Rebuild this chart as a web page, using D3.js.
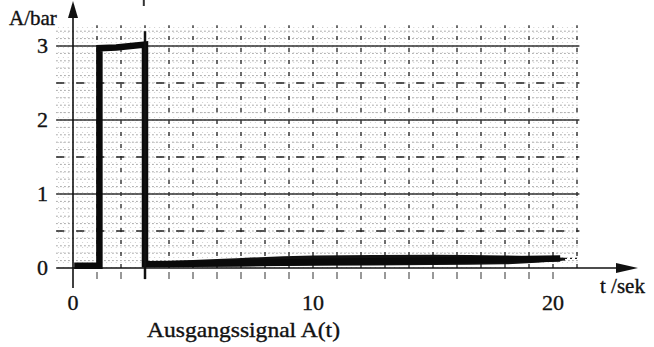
<!DOCTYPE html>
<html><head><meta charset="utf-8">
<script src="https://cdn.jsdelivr.net/npm/d3@7"></script>
<style>body{margin:0;background:#fff}svg{display:block}</style>
</head><body><svg id="c" width="654" height="347"></svg>
<script>
// ---- data ----
const xTicks = [0, 10, 20];
const yTicks = [0, 1, 2, 3];
const yHalf = [0.5, 1.5, 2.5];
const signalT = [0.05, 1.1, 1.1, 1.8, 3.0, 3.0, 6, 10, 15, 20.3];
const signalA = [0.03, 0.03, 2.97, 2.98, 3.02, 0.05, 0.06, 0.08, 0.1, 0.13];
const tailT = [3.0, 6, 10, 15, 18, 20.5];
const tailUpper = [0.08, 0.12, 0.17, 0.18, 0.17, 0.14];
const tailLower = [0.02, 0.02, 0.03, 0.04, 0.05, 0.1];
const xLabel = "t /sek";
const yLabel = "A/bar";
const caption = "Ausgangssignal A(t)";

const FONT = "'Liberation Serif', 'Times New Roman', Times, 'DejaVu Serif', serif";
const svg = d3.select("#c");
const x = d3.scaleLinear().domain([0, 20]).range([73, 553]);
const y = d3.scaleLinear().domain([0, 3]).range([268, 46]);

const gx0 = -0.7, gx1 = 21.1, gy1 = 3.28;
const grid = svg.append("g");
d3.range(1, 33).map(i => i / 10).forEach(v => {
  grid.append("line").attr("x1", x(gx0)).attr("x2", x(gx1)).attr("y1", y(v)).attr("y2", y(v))
    .attr("stroke", "#8a8a8a").attr("stroke-width", 0.9).attr("stroke-dasharray", "1.5,2.5");
});
d3.range(-3, 106).map(i => i / 5).forEach(v => {
  grid.append("line").attr("x1", x(v)).attr("x2", x(v)).attr("y1", y(0)).attr("y2", y(gy1))
    .attr("stroke", "#bbb").attr("stroke-width", 0.7).attr("stroke-dasharray", "1,4");
});
d3.range(1, 22).forEach(v => {
  grid.append("line").attr("x1", x(v)).attr("x2", x(v)).attr("y1", y(0)).attr("y2", y(gy1))
    .attr("stroke", "#333").attr("stroke-width", 1.4).attr("stroke-dasharray", "4,8");
});
yHalf.forEach(v => {
  grid.append("line").attr("x1", x(gx0)).attr("x2", x(gx1)).attr("y1", y(v)).attr("y2", y(v))
    .attr("stroke", "#222").attr("stroke-width", 1.5).attr("stroke-dasharray", "8,12");
});
yTicks.filter(v => v > 0).forEach(v => {
  grid.append("line").attr("x1", x(gx0)).attr("x2", x(gx1)).attr("y1", y(v)).attr("y2", y(v))
    .attr("stroke", "#333").attr("stroke-width", 1.3);
});

d3.range(1, 21).forEach(v => {
  svg.append("line").attr("x1", x(v)).attr("x2", x(v)).attr("y1", y(0) + 4).attr("y2", y(0) + 11)
    .attr("stroke", "#555").attr("stroke-width", 1.2);
});

svg.append("line").attr("x1", x(gx0)).attr("x2", 622).attr("y1", y(0)).attr("y2", y(0))
  .attr("stroke", "#111").attr("stroke-width", 1.6);
svg.append("path").attr("d", `M638,${y(0)} L616,${y(0)-5} L616,${y(0)+5} Z`).attr("fill", "#111");
svg.append("line").attr("x1", x(0)).attr("x2", x(0)).attr("y1", 288).attr("y2", 14)
  .attr("stroke", "#111").attr("stroke-width", 1.6);
svg.append("path").attr("d", `M${x(0)},1 L${x(0)-5},18 L${x(0)+5},18 Z`).attr("fill", "#111");

const area = d3.area().x((d, i) => x(tailT[i])).y0((d, i) => y(tailLower[i])).y1((d, i) => y(tailUpper[i])).curve(d3.curveMonotoneX);
svg.append("path").attr("d", area(tailT)).attr("fill", "#111");
svg.append("line").attr("x1", x(20.5)).attr("x2", x(gx1)).attr("y1", y(0.13)).attr("y2", y(0.13))
  .attr("stroke", "#222").attr("stroke-width", 1.4).attr("stroke-dasharray", "2,3");

const line = d3.line().x((d, i) => x(signalT[i])).y((d, i) => y(signalA[i]));
svg.append("path").attr("d", line(signalT)).attr("fill", "none").attr("stroke", "#0a0a0a")
  .attr("stroke-width", 6.5).attr("stroke-linejoin", "miter");
svg.append("line").attr("x1", x(3.0)).attr("x2", x(3.0)).attr("y1", y(-0.15)).attr("y2", y(3.2))
  .attr("stroke", "#111").attr("stroke-width", 2.5);
svg.append("line").attr("x1", x(2.95)).attr("x2", x(2.95)).attr("y1", 0).attr("y2", 6)
  .attr("stroke", "#333").attr("stroke-width", 2);

const T = (sel) => sel.attr("font-family", FONT).attr("fill", "#111")
  .attr("stroke", "#111").attr("stroke-width", 0.35);
xTicks.forEach(v => {
  T(svg.append("text")).attr("x", x(v)).attr("y", 310).attr("text-anchor", "middle")
    .attr("font-size", 22).text(v);
});
yTicks.forEach(v => {
  T(svg.append("text")).attr("x", 48).attr("y", y(v) + 7).attr("text-anchor", "end")
    .attr("font-size", 22).text(v);
});
T(svg.append("text")).attr("x", 9).attr("y", 25).attr("font-size", 21).text(yLabel);
T(svg.append("text")).attr("x", 600).attr("y", 293).attr("font-size", 21).text(xLabel);
T(svg.append("text")).attr("x", 147).attr("y", 337).attr("font-size", 21)
  .attr("textLength", 193).attr("lengthAdjust", "spacingAndGlyphs").text(caption);
</script></body></html>
